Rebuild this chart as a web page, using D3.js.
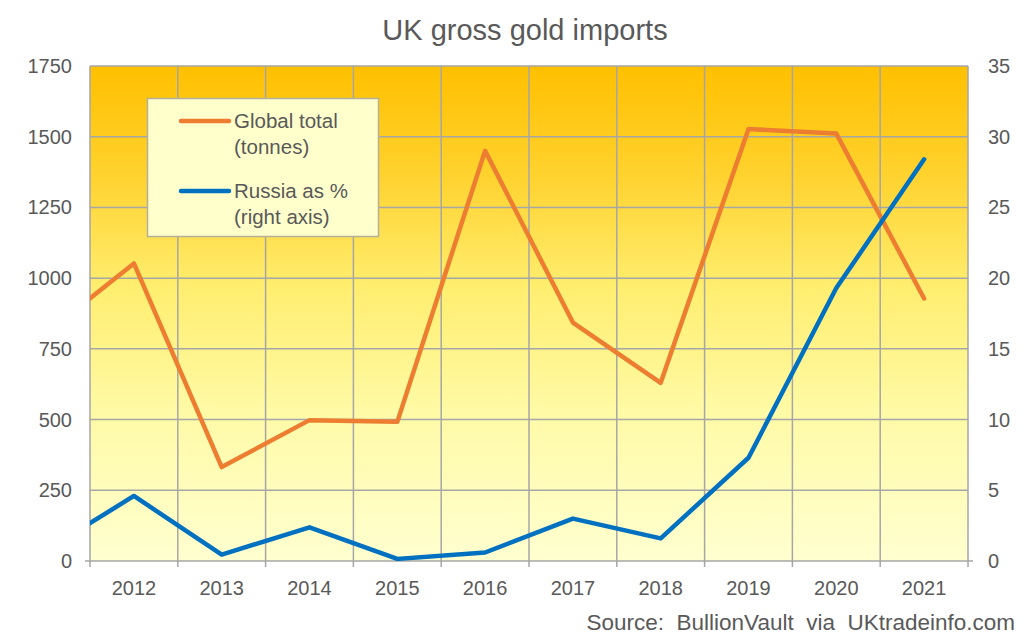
<!DOCTYPE html>
<html>
<head>
<meta charset="utf-8">
<script src="https://cdn.jsdelivr.net/npm/d3@7/dist/d3.min.js"></script>
<style>
  html, body { margin: 0; padding: 0; background: #fff; }
  svg { display: block; font-family: "Liberation Sans", Arial, sans-serif; }
</style>
</head>
<body>
<svg id="chart" width="1024" height="641"></svg>
<script>
// ---- data ----
const years = [2011, 2012, 2013, 2014, 2015, 2016, 2017, 2018, 2019, 2020, 2021];
const yearLabels = ["2012", "2013", "2014", "2015", "2016", "2017", "2018", "2019", "2020", "2021"];
const globalTonnes = [805, 1052, 332, 498, 492, 1450, 843, 630, 1527, 1511, 928];
const russiaPct = [0.75, 4.6, 0.45, 2.38, 0.15, 0.6, 3.0, 1.6, 7.3, 19.3, 28.4];
const leftTicks = [0, 250, 500, 750, 1000, 1250, 1500, 1750];
const rightTicks = [0, 5, 10, 15, 20, 25, 30, 35];
const title = "UK gross gold imports";
const source = "Source:  BullionVault  via  UKtradeinfo.com";
const legendItems = [
  { lines: ["Global total", "(tonnes)"], color: "#ED7D31" },
  { lines: ["Russia as %", "(right axis)"], color: "#0070C0" }
];

// ---- layout ----
const svg = d3.select("#chart");
const L = 90, R = 968, T = 66, B = 561;
const textColor = "#595959";
const gridColor = "#a6a6a6";

const x = d3.scaleLinear().domain([2011.5, 2021.5]).range([L, R]);
const yL = d3.scaleLinear().domain([0, 1750]).range([B, T]);
const yR = d3.scaleLinear().domain([0, 35]).range([B, T]);

const defs = svg.append("defs");
const grad = defs.append("linearGradient").attr("id", "bg")
  .attr("x1", 0).attr("y1", 0).attr("x2", 0).attr("y2", 1);
[[0, "#FFC000"], [0.22, "#FFD22E"], [0.45, "#FFEE70"], [0.7, "#FFFAA6"], [1, "#FFFFD0"]]
  .forEach(([o, c]) => grad.append("stop").attr("offset", o).attr("stop-color", c));
defs.append("clipPath").attr("id", "clip")
  .append("rect").attr("x", L).attr("y", T).attr("width", R - L).attr("height", B - T);

svg.append("rect").attr("x", L).attr("y", T).attr("width", R - L).attr("height", B - T)
  .attr("fill", "url(#bg)");

// horizontal grid
svg.append("g").selectAll("line").data(leftTicks).join("line")
  .attr("x1", L).attr("x2", R)
  .attr("y1", d => yL(d)).attr("y2", d => yL(d))
  .attr("stroke", gridColor).attr("stroke-width", 1.5);

// vertical grid at year boundaries, with ticks below
const bounds = d3.range(2011.5, 2022, 1);
svg.append("g").selectAll("line").data(bounds).join("line")
  .attr("x1", d => x(d)).attr("x2", d => x(d))
  .attr("y1", T).attr("y2", B + 6)
  .attr("stroke", gridColor).attr("stroke-width", 1.5);

// small ticks at zero on both sides
svg.append("line").attr("x1", L - 5).attr("x2", L).attr("y1", B).attr("y2", B)
  .attr("stroke", gridColor).attr("stroke-width", 1.5);
svg.append("line").attr("x1", R).attr("x2", R + 5).attr("y1", B).attr("y2", B)
  .attr("stroke", gridColor).attr("stroke-width", 1.5);

// left axis labels
svg.append("g").selectAll("text").data(leftTicks).join("text")
  .attr("x", 72).attr("y", d => yL(d)).attr("dy", "0.35em")
  .attr("text-anchor", "end").attr("fill", textColor).attr("font-size", 20)
  .text(d => d);

// right axis labels
svg.append("g").selectAll("text").data(rightTicks).join("text")
  .attr("x", 988).attr("y", d => yR(d)).attr("dy", "0.35em")
  .attr("text-anchor", "start").attr("fill", textColor).attr("font-size", 20)
  .text(d => d);

// x labels
svg.append("g").selectAll("text").data(yearLabels).join("text")
  .attr("x", d => x(+d)).attr("y", 588).attr("dy", "0.35em")
  .attr("text-anchor", "middle").attr("fill", textColor).attr("font-size", 20)
  .text(d => d);

// lines
const plot = svg.append("g").attr("clip-path", "url(#clip)");
const lineL = d3.line().x((d, i) => x(years[i])).y(d => yL(d));
const lineR = d3.line().x((d, i) => x(years[i])).y(d => yR(d));
plot.append("path").datum(globalTonnes).attr("d", lineL)
  .attr("fill", "none").attr("stroke", "#ED7D31").attr("stroke-width", 4.5)
  .attr("stroke-linejoin", "round").attr("stroke-linecap", "round");
plot.append("path").datum(russiaPct).attr("d", lineR)
  .attr("fill", "none").attr("stroke", "#0070C0").attr("stroke-width", 4.5)
  .attr("stroke-linejoin", "round").attr("stroke-linecap", "round");

// legend
const lg = svg.append("g");
lg.append("rect").attr("x", 147.5).attr("y", 98.5).attr("width", 231).attr("height", 138)
  .attr("fill", "#FFFFCC").attr("stroke", "#b4b09a").attr("stroke-width", 1.5);
legendItems.forEach((it, i) => {
  const cy = 121 + i * 70;
  lg.append("line").attr("x1", 181).attr("x2", 229).attr("y1", cy).attr("y2", cy)
    .attr("stroke", it.color).attr("stroke-width", 4.5).attr("stroke-linecap", "round");
  it.lines.forEach((t, j) => {
    lg.append("text").attr("x", 234).attr("y", cy + j * 26).attr("dy", "0.35em")
      .attr("fill", textColor).attr("font-size", 20.5).text(t);
  });
});

// title and source
svg.append("text").attr("x", 525).attr("y", 30).attr("dy", "0.35em")
  .attr("text-anchor", "middle").attr("fill", textColor).attr("font-size", 29)
  .text(title);
svg.append("text").attr("x", 1015).attr("y", 622).attr("dy", "0.35em")
  .attr("text-anchor", "end").attr("fill", textColor).attr("font-size", 22.5)
  .attr("xml:space", "preserve").style("white-space", "pre")
  .text(source);
</script>
</body>
</html>
